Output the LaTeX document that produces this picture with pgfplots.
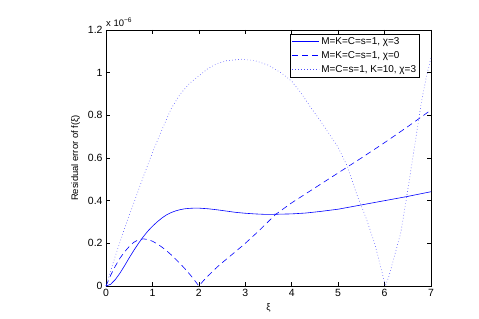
\documentclass[border=0pt]{standalone}
\usepackage{pgfplots}
\pgfplotsset{compat=1.18}
\usepackage{fontspec}
\setmainfont{Liberation Sans}
\begin{document}
\begin{tikzpicture}
\begin{axis}[
  at={(0,0)}, anchor=south west,
  scale only axis, width=325bp, height=256bp,
  clip=false,
  xmin=0, xmax=7, ymin=0, ymax=1.2,
  xtick={0,1,...,7}, ytick={0,0.2,0.4,0.6,0.8,1,1.2},
  yticklabels={0,0.2,0.4,0.6,0.8,1,1.2},
  /pgf/number format/assume math mode=true,
  tick label style={font=\fontsize{10.5}{12}\selectfont},
  tick align=inside, major tick length=4bp,
  axis line style={line width=0.7pt},
  every tick/.style={black, line width=0.5pt},
  xlabel={ξ}, ylabel={Residual error of f(ξ)},
  label style={font=\fontsize{9.5}{11}\selectfont},
  xlabel style={at={(axis description cs:0.5,-0.055)}, anchor=north},
  ylabel style={at={(axis description cs:-0.093,0.5)}, anchor=center},
  legend style={at={(axis description cs:0.966,0.986)}, anchor=north east,
    font=\fontsize{10}{12}\selectfont, draw=black, line width=0.8pt,
    inner sep=1.5bp, row sep=1.5bp},
  legend cell align=left,
  legend image code/.code={\draw[#1, line width=0.6pt] (0bp,0bp) -- (27bp,0bp);},
]
\addplot[blue, line width=0.6pt] coordinates {
(0,0) (0.1,0.008) (0.2,0.03) (0.3,0.06) (0.4,0.095) (0.5,0.132) (0.6,0.167) (0.7,0.2) (0.8,0.23) (0.9,0.257) (1.0,0.28) (1.1,0.3) (1.2,0.318) (1.3,0.333) (1.4,0.344) (1.5,0.352) (1.6,0.358) (1.7,0.362) (1.8,0.364) (1.9,0.365) (2.0,0.365) (2.2,0.362) (2.4,0.357) (2.6,0.351) (2.8,0.345) (3.0,0.341) (3.2,0.338) (3.4,0.336) (3.6,0.336) (3.8,0.337) (4.0,0.338) (4.3,0.342) (4.6,0.349) (5.0,0.36) (5.5,0.38) (6.0,0.40) (6.5,0.42) (7.0,0.442)
};
\addlegendentry{M=K=C=s=1, χ=3}
\addplot[blue, line width=0.6pt, dash pattern=on 6bp off 4bp] coordinates {
(0,0) (0.1,0.05) (0.2,0.093) (0.3,0.13) (0.4,0.16) (0.5,0.185) (0.6,0.205) (0.7,0.217) (0.8,0.221) (0.9,0.218) (1.0,0.21) (1.1,0.198) (1.2,0.183) (1.3,0.166) (1.4,0.147) (1.5,0.126) (1.6,0.104) (1.7,0.081) (1.8,0.056) (1.9,0.029) (2.0,0) (2.1,0.025) (2.2,0.048) (2.4,0.09) (2.6,0.127) (2.8,0.163) (3.0,0.2) (3.3,0.26) (3.65,0.335) (4.0,0.39) (4.5,0.46) (5.0,0.53) (5.5,0.6) (6.0,0.672) (6.5,0.747) (7.0,0.825)
};
\addlegendentry{M=K=C=s=1, χ=0}
\addplot[blue!70, line width=0.6pt, dash pattern=on 0.6bp off 2.4bp] coordinates {
(0,0) (0.2,0.14) (0.4,0.27) (0.6,0.39) (0.8,0.51) (1.0,0.625) (1.2,0.73) (1.4,0.83) (1.6,0.9) (1.8,0.95) (2.0,0.985) (2.2,1.02) (2.4,1.043) (2.6,1.056) (2.9,1.063) (3.2,1.057) (3.5,1.035) (3.8,0.995) (4.0,0.96) (4.2,0.905) (4.4,0.84) (4.6,0.78) (4.8,0.715) (5.0,0.65) (5.2,0.56) (5.4,0.43) (5.6,0.32) (5.8,0.19) (5.95,0.06) (6.02,0) (6.1,0.05) (6.2,0.13) (6.35,0.25) (6.5,0.45) (6.65,0.66) (6.8,0.87) (6.9,0.98) (7.0,1.07)
};
\addlegendentry{M=C=s=1, K=10, χ=3}
\node[anchor=south west, inner sep=0pt, font=\fontsize{9.5}{11}\selectfont] at (rel axis cs:0,1) [yshift=3bp] {x 10\textsuperscript{−6}};
\end{axis}
\useasboundingbox (-106bp,-33bp) rectangle (373bp,286bp);
\end{tikzpicture}
\end{document}
